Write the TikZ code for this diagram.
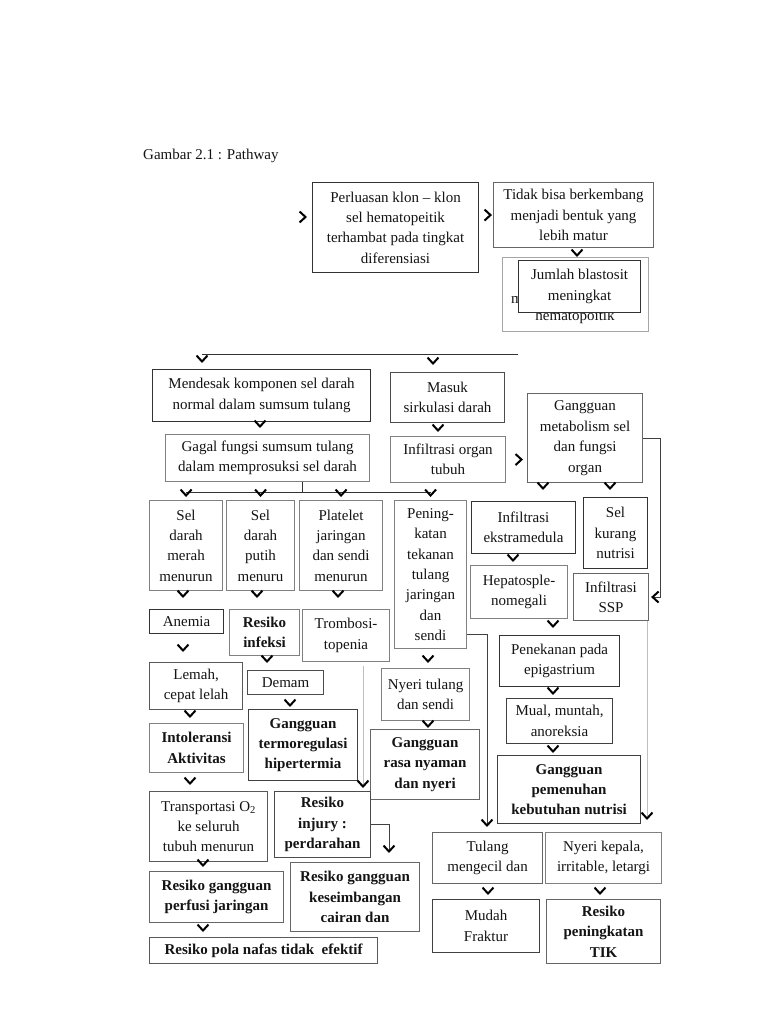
\documentclass[tikz,border=0pt]{standalone}
\usepackage{fontspec}
\setmainfont{Liberation Serif}
\usetikzlibrary{arrows.meta,calc}
\tikzset{
  box/.style={draw=black!50, line width=1.1pt, fill=white, inner sep=0pt, align=center,
    anchor=north west, font=\fontsize{15}{20.4}\selectfont, text=black!92},
  dk/.style={draw=black!80},
  bf/.style={font=\fontsize{15}{20.4}\selectfont\bfseries},
  ln/.style={draw=black!80, line width=1pt},
  chev/.style={draw=white, line width=0.5pt, shorten <=1.5pt,
    -{Straight Barb[color=black,length=6pt,width=11pt,line width=2pt]}},
  chevd/.style={draw=black!75, line width=1pt,
    -{Straight Barb[color=black,length=6pt,width=11pt,line width=2pt]}},
  chevg/.style={draw=black!25, line width=1pt,
    -{Straight Barb[color=black,length=6pt,width=11pt,line width=2pt]}},
  lbl/.style={font=\fontsize{15}{20.4}\selectfont, text=black!92, inner sep=0pt}
}
\newcommand\mybox[7][]{\node[box,#1,minimum width=#5pt-#3pt,minimum height=#6pt-#4pt] (#2) at (#3,#4) {#7};}
\newcommand\vchev[4][4pt]{\coordinate (tmpx) at (#4,0); \draw[chev, shorten >=#1] (#2.south -| tmpx) -- (#3.north -| tmpx);}
\begin{document}
\begin{tikzpicture}[x=1pt,y=-1pt]
\useasboundingbox (0,0) rectangle (768,1024);
\node[lbl, anchor=west] (title) at (143,156) {Gambar 2.1 : Pathway};

% top row
\mybox[dk]{per}{312}{182}{478}{272}{Perluasan klon \textendash{} klon\\sel hematopeitik\\terhambat pada tingkat\\diferensiasi}
\mybox[draw=black!60]{tid}{493}{182}{653}{247}{Tidak bisa berkembang\\menjadi bentuk yang\\lebih matur}
\mybox[draw=black!35]{hid}{502}{257}{648}{331}{}
\node[lbl, anchor=base east] (hidm) at (523,303) {m};
\node[lbl, anchor=base] (hidh) at (575,320) {hematopoitik};
\mybox[dk]{jml}{518}{260}{640}{312}{Jumlah blastosit\\meningkat}

% second level
\mybox[dk]{mend}{152}{369}{370}{421}{Mendesak komponen sel darah\\normal dalam sumsum tulang}
\mybox{gag}{165}{434}{369}{481}{Gagal fungsi sumsum tulang\\dalam memprosuksi sel darah}
\mybox[draw=black!70]{mas}{390}{372}{504}{422}{Masuk\\sirkulasi darah}
\mybox{inf}{390}{436}{505}{482}{Infiltrasi organ\\tubuh}
\mybox[draw=black!60]{gm}{527}{393}{642}{482}{Gangguan\\metabolism sel\\dan fungsi\\organ}

% columns
\mybox{sdm}{149}{500}{222}{590}{Sel\\darah\\merah\\menurun}
\mybox{sdp}{226}{500}{294}{590}{Sel\\darah\\putih\\menuru}
\mybox{plt}{299}{500}{382}{590}{Platelet\\jaringan\\dan sendi\\menurun}
\mybox{pen}{394}{500}{466}{648}{Pening-\\katan\\tekanan\\tulang\\jaringan\\dan\\sendi}
\mybox[dk]{ie}{471}{501}{575}{553}{Infiltrasi\\ekstramedula}
\mybox[dk]{skn}{583}{497}{647}{568}{Sel\\kurang\\nutrisi}
\mybox{hep}{470}{565}{567}{618}{Hepatosple-\\nomegali}
\mybox[draw=black!60]{ssp}{573}{573}{648}{620}{Infiltrasi\\SSP}

\mybox[dk]{an}{149}{609}{223}{633}{Anemia}
\mybox[bf]{ri}{229}{609}{299}{655}{Resiko\\infeksi}
\mybox{tr}{302}{609}{389}{661}{Trombosi-\\topenia}
\mybox[draw=black!65]{lem}{149}{662}{242}{709}{Lemah,\\cepat lelah}
\mybox[draw=black!70]{dem}{247}{670}{323}{694}{Demam}
\mybox[bf]{int}{149}{723}{243}{772}{Intoleransi\\Aktivitas}
\mybox[bf,draw=black!75]{gt}{248}{709}{357}{780}{Gangguan\\termoregulasi\\hipertermia}
\mybox{ny}{381}{668}{469}{720}{Nyeri tulang\\dan sendi}
\mybox[bf,draw=black!60]{rn}{370}{729}{479}{799}{Gangguan\\rasa nyaman\\dan nyeri}
\mybox[dk]{pe}{499}{635}{619}{686}{Penekanan pada\\epigastrium}
\mybox[draw=black!75]{mual}{506}{698}{612}{743}{Mual, muntah,\\anoreksia}
\mybox[bf,draw=black!75]{gp}{497}{755}{640}{823}{Gangguan\\pemenuhan\\kebutuhan nutrisi}

\mybox[draw=black!65]{trn}{149}{791}{267}{861}{Transportasi O\textsubscript{2}\\ke seluruh\\tubuh menurun}
\mybox[bf,draw=black!70]{inj}{274}{791}{370}{857}{Resiko\\injury :\\perdarahan}
\mybox[bf,draw=black!60]{perf}{149}{871}{283}{922}{Resiko gangguan\\perfusi jaringan}
\mybox[bf,draw=black!65]{pola}{149}{937}{377}{963}{Resiko pola nafas tidak~ efektif}
\mybox[bf,draw=black!60]{kes}{290}{862}{419}{931}{Resiko gangguan\\keseimbangan\\cairan dan}
\mybox[draw=black!60]{tm}{432}{832}{542}{883}{Tulang\\mengecil dan}
\mybox{nk}{545}{832}{661}{883}{Nyeri kepala,\\irritable, letargi}
\mybox[draw=black!75]{mf}{432}{899}{539}{952}{Mudah\\Fraktur}
\mybox[bf,draw=black!60]{tik}{546}{899}{660}{963}{Resiko\\peningkatan\\TIK}

% connectors: top
\coordinate (in0) at (294,217);
\draw[chev, shorten >=5pt] (in0) -- (in0 -| per.west);
\draw[chev, shorten >=1pt] (per.east |- tid.west) -- (tid.west);
\vchev[3pt]{tid}{jml}{577}

\coordinate (tlR) at (518,354);
\coordinate (tlL) at (202,354);
\coordinate (tlM) at (433,354);
\draw[ln] (tlR) -- (tlL);
\draw[chev, shorten >=6pt] (tlL) -- (tlL |- mend.north);
\draw[chev, shorten >=7pt] (tlM) -- (tlM |- mas.north);

\vchev[6pt]{mend}{gag}{260}
\vchev[4pt]{mas}{inf}{438}
\draw[chev, shorten >=4pt] (inf.east) -- (inf.east -| gm.west);

% gagal junction
\coordinate (gj) at (302,492);
\draw[ln] (gag.south -| gj) -- (gj);
\draw[ln] (sdm.north |- gj) -- (pen.north |- gj);
\foreach \n in {sdm,sdp,plt,pen}{\draw[chev, shorten >=3pt] (\n.north |- gj) -- (\n.north);}

% metabolism branch
\vchev[11pt]{gm}{ie}{543}
\vchev[7pt]{gm}{skn}{610}
\coordinate (rr) at (660,0);
\draw[chevd, shorten >=2pt] (gm.east) -- (gm.east -| rr) -- (rr |- ssp.east) -- (ssp.east);
\coordinate (c648) at (647,0);
\draw[chevg, shorten >=12pt] (ssp.south -| c648) -- (nk.north -| c648);
\vchev[3pt]{ie}{hep}{513}
\vchev[7pt]{hep}{pe}{553}
\vchev[3pt]{pe}{mual}{553}
\vchev[2pt]{mual}{gp}{553}

% columns down
\vchev[11pt]{sdm}{an}{183}
\vchev[11pt]{sdp}{ri}{257}
\vchev[11pt]{plt}{tr}{338}
\vchev[10pt]{an}{lem}{183}
\vchev[7pt]{ri}{dem}{267}
\vchev[2pt]{dem}{gt}{290}
\vchev[5pt]{lem}{int}{190}
\vchev[6pt]{int}{trn}{190}
\vchev[4pt]{trn}{perf}{203}
\vchev[5pt]{perf}{pola}{203}

\coordinate (c363) at (363,0);
\draw[chevg, shorten >=3pt, shorten <=4pt] (tr.south -| c363) -- (inj.north -| c363);
\coordinate (c389) at (389,0);
\draw[chevd, shorten >=9pt] (inj.east) -| (kes.north -| c389);

\vchev[5pt]{pen}{ny}{428}
\vchev[1pt]{ny}{rn}{428}
\coordinate (c487) at (487,634);
\draw[chevd, shorten >=5pt] (pen.east |- c487) -- (c487) -- (c487 |- tm.north);
\vchev[4pt]{tm}{mf}{488}
\vchev[4pt]{nk}{tik}{600}
\end{tikzpicture}
\end{document}
